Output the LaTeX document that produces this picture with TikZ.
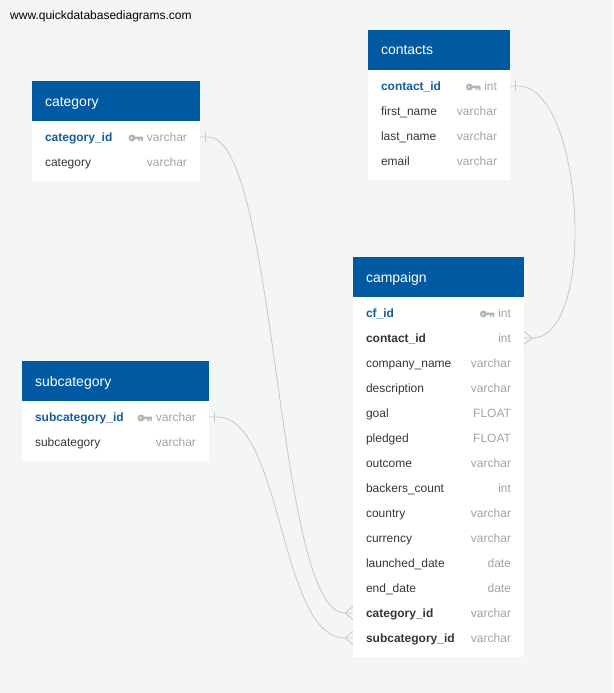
\documentclass[tikz,border=0pt]{standalone}
\usepackage{fontspec}
\setmainfont{Liberation Sans}
\usetikzlibrary{positioning}
\definecolor{qdbblue}{RGB}{1,89,161}
\definecolor{keyblue}{RGB}{22,93,160}
\definecolor{rowtext}{RGB}{51,55,60}
\definecolor{typegray}{RGB}{160,163,168}
\definecolor{keygray}{RGB}{178,181,186}
\definecolor{linkgray}{RGB}{200,200,200}
\definecolor{canvas}{RGB}{244,245,245}
\newcommand{\keyicon}{\tikz[baseline=-3.5pt,x=1pt,y=1pt]{\fill[keygray,even odd rule] (3.5,0) circle (3.5) (3.2,0) circle (1.2); \fill[keygray] (6,-1.2) rectangle (14.5,1.5) (10,-1.2) rectangle (11.6,-3) (12.9,-1.2) rectangle (14.5,-3.2);}}
\newcommand{\pkey}[2]{\textcolor{keyblue}{\bfseries #1}\hfill\keyicon\hspace{4pt}\textcolor{typegray}{#2}}
\newcommand{\fkey}[2]{\textbf{#1}\hfill\textcolor{typegray}{#2}}
\newcommand{\field}[2]{#1\hfill\textcolor{typegray}{#2}}
\begin{document}
\begin{tikzpicture}[x=1pt,y=1pt,node distance=0pt,
  tblhead/.style={anchor=north west,fill=qdbblue,text=white,font=\fontsize{14}{16}\selectfont,minimum height=40pt,inner xsep=13pt,outer sep=0pt,text width=#1,text height=12pt,text depth=2pt},
  tblbody/.style 2 args={fill=white,inner sep=0pt,outer sep=0pt,minimum width=#1,minimum height=#2},
  tblrow/.style={minimum height=25pt,inner xsep=13pt,inner ysep=0pt,outer sep=0pt,text width=#1,text height=10.5pt,text depth=1.5pt,font=\fontsize{12}{14}\selectfont,text=rowtext},
  link/.style={draw=linkgray,line width=0.8pt}]
   \fill[canvas] (0,0) rectangle (613,-693);
   \node[anchor=west,inner sep=0pt,font=\fontsize{12}{14}\selectfont] (site) at (10,-16) {www.quickdatabasediagrams.com};

   \node[tblhead=142pt] (cat) at (32,-81) {category};
   \node[tblbody={168pt}{60pt}] (cat-body) [below=of cat] {};
   \node[tblrow=142pt] (cat-id) [below=3.5pt of cat-body.north] {\pkey{category\_id}{varchar}};
   \node[tblrow=142pt] (cat-name) [below=of cat-id] {\field{category}{varchar}};

   \node[tblhead=116pt] (con) at (368,-30) {contacts};
   \node[tblbody={142pt}{110pt}] (con-body) [below=of con] {};
   \node[tblrow=116pt] (con-id) [below=3.5pt of con-body.north] {\pkey{contact\_id}{int}};
   \node[tblrow=116pt] (con-first) [below=of con-id] {\field{first\_name}{varchar}};
   \node[tblrow=116pt] (con-last) [below=of con-first] {\field{last\_name}{varchar}};
   \node[tblrow=116pt] (con-email) [below=of con-last] {\field{email}{varchar}};

   \node[tblhead=161pt] (sub) at (22,-361) {subcategory};
   \node[tblbody={187pt}{60pt}] (sub-body) [below=of sub] {};
   \node[tblrow=161pt] (sub-id) [below=3.5pt of sub-body.north] {\pkey{subcategory\_id}{varchar}};
   \node[tblrow=161pt] (sub-name) [below=of sub-id] {\field{subcategory}{varchar}};

   \node[tblhead=145pt] (camp) at (353,-257) {campaign};
   \node[tblbody={171pt}{360pt}] (camp-body) [below=of camp] {};
   \node[tblrow=145pt] (camp-id) [below=3.5pt of camp-body.north] {\pkey{cf\_id}{int}};
   \node[tblrow=145pt] (camp-con) [below=of camp-id] {\fkey{contact\_id}{int}};
   \node[tblrow=145pt] (camp-company) [below=of camp-con] {\field{company\_name}{varchar}};
   \node[tblrow=145pt] (camp-desc) [below=of camp-company] {\field{description}{varchar}};
   \node[tblrow=145pt] (camp-goal) [below=of camp-desc] {\field{goal}{FLOAT}};
   \node[tblrow=145pt] (camp-pledged) [below=of camp-goal] {\field{pledged}{FLOAT}};
   \node[tblrow=145pt] (camp-outcome) [below=of camp-pledged] {\field{outcome}{varchar}};
   \node[tblrow=145pt] (camp-backers) [below=of camp-outcome] {\field{backers\_count}{int}};
   \node[tblrow=145pt] (camp-country) [below=of camp-backers] {\field{country}{varchar}};
   \node[tblrow=145pt] (camp-currency) [below=of camp-country] {\field{currency}{varchar}};
   \node[tblrow=145pt] (camp-launched) [below=of camp-currency] {\field{launched\_date}{date}};
   \node[tblrow=145pt] (camp-end) [below=of camp-launched] {\field{end\_date}{date}};
   \node[tblrow=145pt] (camp-cat) [below=of camp-end] {\fkey{category\_id}{varchar}};
   \node[tblrow=145pt] (camp-sub) [below=of camp-cat] {\fkey{subcategory\_id}{varchar}};

   \draw[link] (con-id.east) -- ++(8,0) .. controls +(66,0) and +(66,0) .. ([xshift=8pt]camp-con.east) -- (camp-con.east);
   \draw[link] ([xshift=5.5pt,yshift=5pt]con-id.east) -- ++(0,-10);
   \draw[link] ([xshift=8pt]camp-con.east) -- ([yshift=6.5pt]camp-con.east) ([xshift=8pt]camp-con.east) -- ([yshift=-6.5pt]camp-con.east);

   \draw[link] (cat-id.east) -- ++(8,0) .. controls +(70,0) and +(-70,0) .. ([xshift=-8pt]camp-cat.west) -- (camp-cat.west);
   \draw[link] ([xshift=5.5pt,yshift=5pt]cat-id.east) -- ++(0,-10);
   \draw[link] ([xshift=-8pt]camp-cat.west) -- ([yshift=6.5pt]camp-cat.west) ([xshift=-8pt]camp-cat.west) -- ([yshift=-6.5pt]camp-cat.west);

   \draw[link] (sub-id.east) -- ++(8,0) .. controls +(66,0) and +(-66,0) .. ([xshift=-8pt]camp-sub.west) -- (camp-sub.west);
   \draw[link] ([xshift=5.5pt,yshift=5pt]sub-id.east) -- ++(0,-10);
   \draw[link] ([xshift=-8pt]camp-sub.west) -- ([yshift=6.5pt]camp-sub.west) ([xshift=-8pt]camp-sub.west) -- ([yshift=-6.5pt]camp-sub.west);
\end{tikzpicture}
\end{document}
